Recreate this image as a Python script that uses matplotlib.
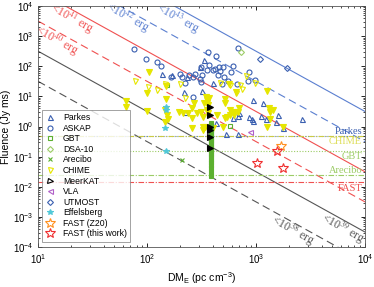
import numpy as np
import matplotlib
matplotlib.use("Agg")
import matplotlib.pyplot as plt

plt.rcParams['font.family'] = ['Liberation Sans', 'DejaVu Sans']
plt.rcParams['mathtext.fontset'] = 'stix'

# --- data (DM_E in pc cm^-3, fluence in Jy ms) ---
parkes_dm = [137, 170, 233, 306, 333, 218, 320, 223, 403, 938, 1159, 698, 684, 863,
             919, 938, 1111, 1236, 1591, 1525, 1768, 2642, 684, 531, 615, 430]
parkes_fl = [55, 51, 44, 94, 161, 13.9, 15, 3.0, 28, 7.5, 6.0, 2.8, 2.2, 2.05,
             1.76, 1.51, 2.2, 1.76, 2.4, 1.4, 0.88, 1.76, 0.56, 0.56, 1.9, 1.3]

askap_dm = [76, 98, 124, 134, 166, 201, 210, 223, 243, 264, 275, 264, 313, 306, 320, 313,
            363, 430, 370, 458, 498, 355, 403, 421, 467, 448, 509, 590, 553, 488, 670,
            684, 845, 979, 863, 615]
askap_fl = [372, 173, 138, 102, 44, 55, 44, 28, 51, 44, 55, 9.5, 30, 38, 51, 94,
            297, 218, 110, 94, 94, 75, 75, 81, 69, 51, 44, 64, 32, 26, 26,
            403, 32, 35, 64, 102]

gbt_dm = [152, 577]
gbt_fl = [24, 1.03]
gbt_col_dm = [384, 388, 386, 383, 389, 385, 387, 384, 388, 386, 383, 389, 385,
              387, 384, 388, 386, 383, 389, 385, 387, 384, 388, 386, 385]
gbt_col_fl = [1.3, 1.15, 1.0, 0.88, 0.76, 0.66, 0.57, 0.5, 0.43, 0.37, 0.32, 0.28, 0.24,
              0.21, 0.18, 0.155, 0.13, 0.11, 0.095, 0.08, 0.068, 0.055, 0.042, 0.03, 0.023]

dsa_dm = [728]
dsa_fl = [297]

arecibo_dm = [210]
arecibo_fl = [0.077]

chime_dm = [78, 102, 124, 146, 201, 223, 467, 577, 713, 810, 979, 744, 656]
chime_fl = [32, 20, 16.2, 26, 26, 8.8, 28, 24, 24, 47, 28, 17.5, 12.9]
chime_fill_dm = [64, 64, 104, 100, 100, 149, 149, 146, 152, 156, 146, 197, 238, 259, 259,
                 259, 270, 214, 287, 313, 327, 327, 327, 348, 355, 355, 363, 355, 363, 341,
                 370, 333, 403, 439, 520, 520, 542, 520, 498, 577, 577, 656, 565, 615, 628,
                 684, 698, 1262, 1315, 1343, 1432, 1343, 1262, 1768]
chime_fill_fl = [7.0, 4.4, 64, 12.9, 3.3, 22, 8.1, 3.5, 2.4, 1.76, 1.40, 3.0, 2.8, 4.1, 1.9,
                 0.88, 6.0, 2.8, 2.8, 3.0, 2.05, 0.95, 0.76, 9.5, 7.5, 6.0, 5.1, 3.5, 2.8, 0.95,
                 8.8, 6.0, 0.88, 2.4, 8.1, 6.0, 2.05, 1.9, 0.95, 3.5, 2.4, 13.9, 26, 3.1, 2.4,
                 3.1, 4.1, 15, 4.1, 3.1, 3.5, 1.76, 0.95, 0.95]

meerkat_dm = [378, 378, 378, 378, 378, 378]
meerkat_fl = [4.4, 2.4, 0.95, 0.76, 0.44, 0.19]

vla_dm = [881]
vla_fl = [0.65]

utmost_dm = [1088, 1925]
utmost_fl = [173, 87]

effelsberg_dm = [149, 149, 146, 149]
effelsberg_fl = [4.4, 3.5, 0.88, 0.15]

fast_z20_dm = [1694]
fast_z20_fl = [0.22]

fast_new_dm = [1558, 1021, 1768]
fast_new_fl = [0.16, 0.061, 0.041]

# telescope fluence limits
limit_names = ["Parkes", "CHIME", "GBT", "Arecibo", "FAST"]
limit_fl = [0.47, 0.47, 0.15, 0.024, 0.0145]
limit_label_fl = [0.70, 0.33, 0.104, 0.036, 0.009]

# energy upper-limit lines, F = 10**(E - 34.5) / DM**2
energies = [38, 39, 40, 41, 42, 43]
energy_label_pos = [(2150, 3.4e-4), (6250, 4.0e-4), (14.9, 690), (20.5, 3700),
                    (67, 4100), (190, 3800)]

BLUE = "#3a5fb0"
LBLUE = "#5a7fd0"
RED = "#f05050"
GREY = "#555555"
YEL = "#e6e600"
GREEN = "#5cb030"
LGREEN = "#9ccc66"

fig = plt.figure(figsize=(3.74, 2.87), dpi=100)
ax = fig.add_axes([0.102, 0.139, 0.874, 0.840])

dm_grid = np.logspace(1, 4, 50)
estyle = {38: (GREY, (0, (7, 4))), 39: (GREY, "-"), 40: (RED, (0, (7, 4))),
          41: (RED, "-"), 42: (LBLUE, (0, (7, 4))), 43: (LBLUE, "-")}
for e, (x, y) in zip(energies, energy_label_pos):
    c, ls = estyle[e]
    ax.plot(dm_grid, 10 ** (e - 34.5) / dm_grid ** 2, color=c, ls=ls, lw=0.8, zorder=1)
    ax.text(x, y, r"<10$^{%d}$ erg" % e, color=c, rotation=-29, ha="center", va="center",
            fontsize=8.5, fontfamily="Liberation Serif", zorder=2)

lstyle = [(LBLUE, (0, (1, 1.5))), ("#cccc44", (0, (5, 1.5, 1, 1.5))),
          (LGREEN, (0, (1, 1.5))), (LGREEN, (0, (5, 1.5, 1, 1.5))),
          (RED, (0, (5, 1.5, 1, 1.5)))]
lcolor = [BLUE, "#dddd55", LGREEN, LGREEN, RED]
for name, f, fl, (c, ls), tc in zip(limit_names, limit_fl, limit_label_fl, lstyle, lcolor):
    ax.axhline(f, color=c, ls=ls, lw=0.8, zorder=1)
    ax.text(9380, fl, name, color=tc, ha="right", va="center", fontsize=7.5,
            fontfamily="Liberation Serif")

ms = 3.6
kw = dict(ls="none", mew=0.8)
ax.plot(chime_fill_dm, chime_fill_fl, "v", color=YEL, ms=4.8, zorder=3, **kw)
ax.plot(gbt_col_dm, gbt_col_fl, "s", color=GREEN, ms=3.2, zorder=3, **kw)
ax.plot(meerkat_dm, meerkat_fl, ">", color="black", ms=4, zorder=4, **kw)

ax.plot(parkes_dm, parkes_fl, "^", mfc="none", mec=BLUE, ms=ms, label="Parkes", **kw)
ax.plot(askap_dm, askap_fl, "o", mfc="none", mec=BLUE, ms=ms, label="ASKAP", **kw)
ax.plot(gbt_dm, gbt_fl, "s", mfc="none", mec=GREEN, ms=3, label="GBT", **kw)
ax.plot(dsa_dm, dsa_fl, "D", mfc="none", mec=LGREEN, ms=3, label="DSA-10", **kw)
ax.plot(arecibo_dm, arecibo_fl, "x", color=GREEN, ms=3, label="Arecibo", **kw)
ax.plot(chime_dm, chime_fl, "v", mfc="none", mec=YEL, ms=ms, label="CHIME", **kw)
ax.plot([], [], ">", mfc="none", mec="black", ms=ms, label="MeerKAT", **kw)
ax.plot(vla_dm, vla_fl, "<", mfc="none", mec="#b060c8", ms=ms, label="VLA", **kw)
ax.plot(utmost_dm, utmost_fl, "D", mfc="none", mec=BLUE, ms=3, label="UTMOST", **kw)
ax.plot(effelsberg_dm, effelsberg_fl, "*", color="#50c8d8", ms=4, label="Effelsberg",
        zorder=4, **kw)
ax.plot(fast_z20_dm, fast_z20_fl, "*", mfc="none", mec="#ff9020", ms=7,
        label="FAST (Z20)", zorder=5, **kw)
ax.plot(fast_new_dm, fast_new_fl, "*", mfc="none", mec="#f03030", ms=7,
        label="FAST (this work)", zorder=5, **kw)

ax.set_xscale("log")
ax.set_yscale("log")
ax.set_xlim(10, 1e4)
ax.set_ylim(1e-4, 1e4)
ax.set_yticks([10.0 ** k for k in range(-4, 5)])
ax.tick_params(which="both", direction="in", top=True, right=True, labelsize=7)
ax.tick_params(which="major", length=3, width=0.6)
ax.tick_params(which="minor", length=1.5, width=0.5)
for s in ax.spines.values():
    s.set_linewidth(0.6)
    s.set_color("#555555")
ax.set_xlabel(r"DM$_{\mathdefault{E}}$ (pc cm$^{\mathdefault{-3}}$)", fontsize=7.5, labelpad=3)
ax.set_ylabel("Fluence (Jy ms)", fontsize=7.5, labelpad=1)

leg = ax.legend(loc="lower left", bbox_to_anchor=(0.005, 0.015), fontsize=6.2,
                frameon=True, fancybox=False, edgecolor="#777777", labelspacing=0.18,
                handlelength=1.2, handletextpad=0.9, borderpad=0.4, borderaxespad=0.2,
                numpoints=1)
leg.get_frame().set_linewidth(0.6)

fig.savefig("out.png", dpi=100)
